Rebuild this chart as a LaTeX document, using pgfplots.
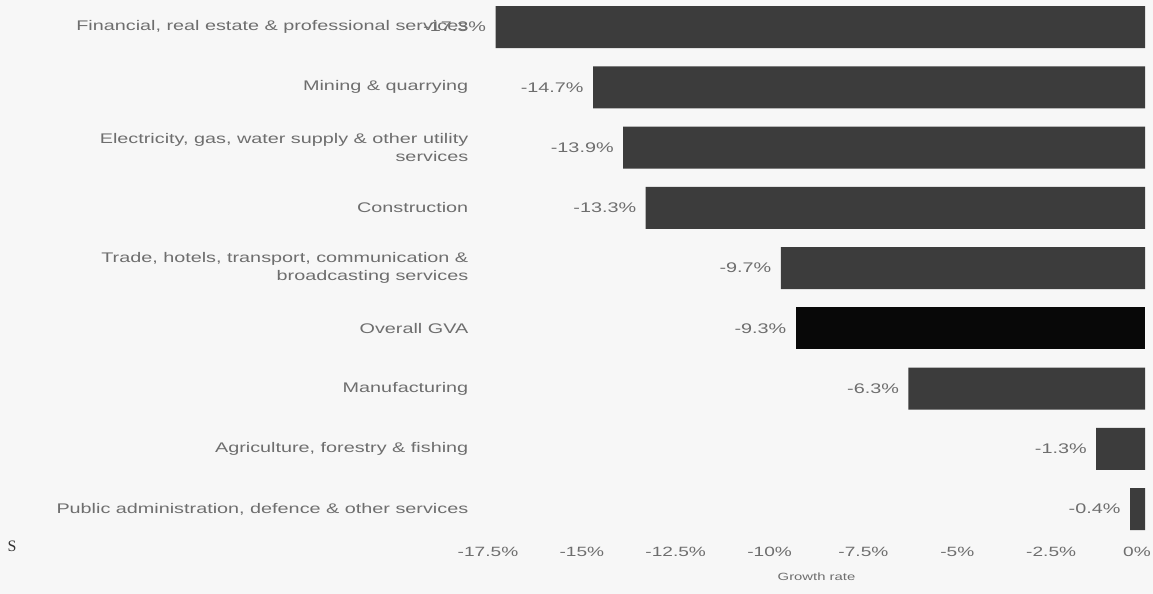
\documentclass[border=0pt]{standalone}
\usepackage{pgfplots}
\pgfplotsset{compat=1.18}
\usepackage{fontspec}
\setmainfont{Liberation Sans}[FakeStretch=1.42]
\newfontfamily\seriffont{Liberation Serif}
\definecolor{bardark}{HTML}{3C3C3C}
\definecolor{barblack}{HTML}{080808}
\definecolor{txt}{HTML}{6E6E6E}
\definecolor{bg}{HTML}{F7F7F7}
\begin{document}
\begin{tikzpicture}[x=1bp,y=1bp]
\fill[bg] (0,0) rectangle (1153,594);
\useasboundingbox (0,0) rectangle (1153,594);
\node[font=\seriffont\fontsize{16}{18}\selectfont, text=black!80] at (12,48) {S};
\begin{axis}[
  at={(488bp,50bp)}, anchor=south west,
  scale only axis, width=657bp, height=544bp,
  xbar, bar width=42bp, bar shift=0pt,
  xmin=-17.5, xmax=0, ymin=-0.58, ymax=8.45,
  axis line style={draw=none},
  tick style={draw=none},
  xtick={-17.5,-15,-12.5,-10,-7.5,-5,-2.5,0},
  xticklabels={-17.5\%,-15\%,-12.5\%,-10\%,-7.5\%,-5\%,-2.5\%,{\hspace{-16bp}0\%}},
  xticklabel style={font=\fontsize{13.5}{15}\selectfont, text=txt},
  ytick={0,1,2,3,4,5,6,7,8},
  yticklabels={{Public administration, defence \& other services},
    {Agriculture, forestry \& fishing},
    Manufacturing,
    Overall GVA,
    {Trade, hotels, transport, communication \&\\broadcasting services},
    Construction,
    {Electricity, gas, water supply \& other utility\\services},
    Mining \& quarrying,
    {Financial, real estate \& professional services}},
  yticklabel style={font=\fontsize{14}{18}\selectfont, text=txt, align=right, xshift=-12bp},
  xlabel={Growth rate},
  xlabel style={font=\fontsize{10.5}{12}\selectfont, text=txt, yshift=-9bp},
  point meta=explicit symbolic,
  nodes near coords,
  nodes near coords align={left},
  every node near coord/.append style={font=\fontsize{14}{16}\selectfont, text=txt, xshift=-6bp},
]
\addplot[fill=bardark, draw=none] coordinates {
  (-0.4,0) [-0.4\%]
  (-1.3,1) [-1.3\%]
  (-6.3,2) [-6.3\%]
  (-9.7,4) [-9.7\%]
  (-13.3,5) [-13.3\%]
  (-13.9,6) [-13.9\%]
  (-14.7,7) [-14.7\%]
  (-17.3,8) [-17.3\%]
};
\addplot[fill=barblack, draw=none] coordinates {
  (-9.3,3) [-9.3\%]
};
\end{axis}
\end{tikzpicture}
\end{document}
